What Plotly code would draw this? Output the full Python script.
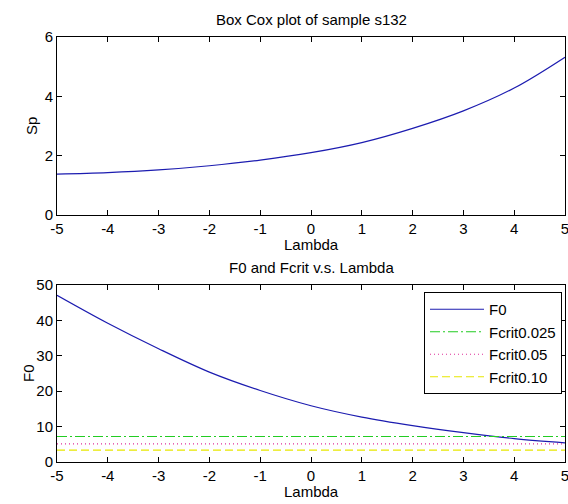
import plotly.graph_objects as go

# ---- data ----
lam = [-5, -4, -3, -2, -1, 0, 1, 2, 3, 4, 5]
sp = [1.38, 1.43, 1.52, 1.66, 1.85, 2.10, 2.44, 2.92, 3.51, 4.28, 5.32]
f0 = [47.1, 39.2, 32.0, 25.4, 20.2, 15.9, 12.7, 10.3, 8.3, 6.6, 5.4]
fcrit_names = ["Fcrit0.025", "Fcrit0.05", "Fcrit0.10"]
fcrit_vals = [7.21, 5.12, 3.36]
x_ticks = [-5, -4, -3, -2, -1, 0, 1, 2, 3, 4, 5]
x_ticktext = ["-5", "-4", "-3", "-2", "-1", "0", "1", "2", "3", "4", "5"]
y1_ticks = [0, 2, 4, 6]
y2_ticks = [0, 10, 20, 30, 40, 50]

W, H = 568, 504
FONT = "Liberation Sans, Arial, Helvetica, sans-serif"
FS = 15

def px_x(p):
    return p / W

def px_y(p):
    return 1 - p / H

fig = go.Figure()

fig.add_trace(go.Scatter(x=lam, y=sp, mode="lines", line=dict(color="#1c1cb0", width=1.2, shape="spline"),
                         showlegend=False, xaxis="x", yaxis="y"))

fig.add_trace(go.Scatter(x=lam, y=f0, mode="lines", name="F0",
                         line=dict(color="#1c1cb0", width=1.2, shape="spline"), xaxis="x2", yaxis="y2"))
styles = [("#22cc22", "10px,3px,2px,3px"), ("#e0309a", "1px,3px"), ("#e8e800", "8px,4px")]
for name, v, (c, d) in zip(fcrit_names, fcrit_vals, styles):
    fig.add_trace(go.Scatter(x=lam, y=[v] * len(lam), mode="lines", name=name,
                             line=dict(color=c, width=1.2, dash=d), xaxis="x2", yaxis="y2"))

xdom = [px_x(57), px_x(565)]
axis_common = dict(showline=True, linecolor="black", linewidth=1, mirror="allticks", ticks="inside",
                   ticklen=5, tickcolor="black", showgrid=False, zeroline=False,
                   ticklabeloverflow="allow",
                   tickfont=dict(family=FONT, size=FS, color="black"))

fig.update_layout(
    width=W, height=H, margin=dict(l=0, r=0, t=0, b=0),
    paper_bgcolor="white", plot_bgcolor="white", template="none",
    font=dict(family=FONT, size=FS, color="black"),
    xaxis=dict(domain=xdom, range=[-5, 5], tickvals=x_ticks, ticktext=x_ticktext, anchor="y", **axis_common),
    yaxis=dict(domain=[px_y(215), px_y(37)], range=[0, 6], tickvals=y1_ticks, anchor="x", **axis_common),
    xaxis2=dict(domain=xdom, range=[-5, 5], tickvals=x_ticks, ticktext=x_ticktext, anchor="y2", **axis_common),
    yaxis2=dict(domain=[px_y(462), px_y(285)], range=[0, 50], tickvals=y2_ticks, anchor="x2", **axis_common),
    legend=dict(x=px_x(562), y=px_y(292), xanchor="right", yanchor="top", bgcolor="white",
                bordercolor="black", borderwidth=1, font=dict(family=FONT, size=FS, color="black"),
                tracegroupgap=0, itemwidth=54),
    showlegend=True,
)

ann = [
    ("Box Cox plot of sample s132", 311, 20, 0),
    ("Lambda", 311, 244, 0),
    ("F0 and Fcrit v.s. Lambda", 311, 267, 0),
    ("Lambda", 311, 491, 0),
    ("Sp", 31, 126, -90),
    ("F0", 28, 373, -90),
]
for t, x, y, rot in ann:
    fig.add_annotation(text=t, x=px_x(x), y=px_y(y), xref="paper", yref="paper", showarrow=False,
                       xanchor="center", yanchor="middle", textangle=rot,
                       font=dict(family=FONT, size=FS, color="black"))

fig.write_html("out.html")
